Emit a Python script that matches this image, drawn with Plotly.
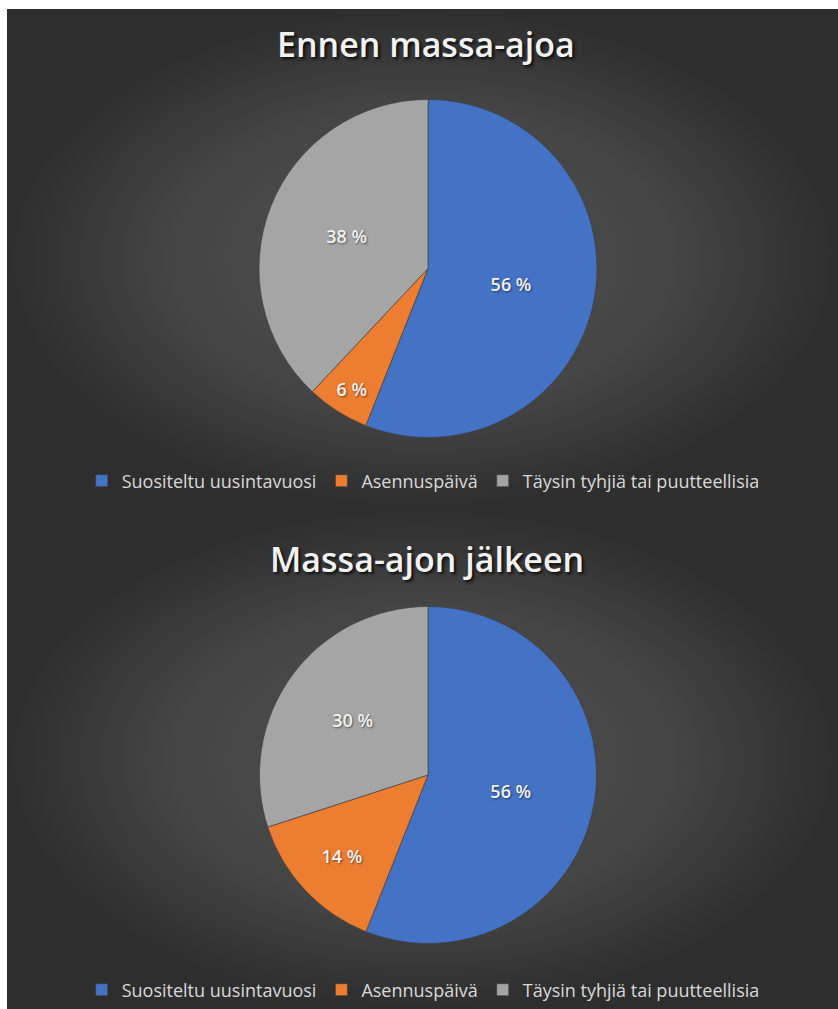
import plotly.graph_objects as go

categories = ["Suositeltu uusintavuosi", "Asennuspäivä", "Täysin tyhjiä tai puutteellisia"]
before_values = [56, 6, 38]
after_values = [56, 14, 30]
titles = ["Ennen massa-ajoa", "Massa-ajon jälkeen"]
colors = ["#4472C4", "#ED7D31", "#A5A5A5"]

W, H = 838, 1009
FONT = "Open Sans"

fig = go.Figure()

# background panels (radial gradient like the Excel chart area)
panels = [(7, W, 9, 508), (7, W, 508, H)]
for x0, x1, y0, y1 in panels:
    fig.add_trace(go.Scatter(
        x=[x0, x1, x1, x0, x0], y=[y0, y0, y1, y1, y0],
        mode="lines", line=dict(width=0), fill="toself",
        fillgradient=dict(type="radial",
                          colorscale=[[0, "#505050"], [0.6, "#454545"], [1, "#2e2e2e"]]),
        hoverinfo="skip", showlegend=False, xaxis="x", yaxis="y"))

def dom(cx, cy, r):
    return dict(x=[(cx - r) / W, (cx + r) / W], y=[1 - (cy + r) / H, 1 - (cy - r) / H])

pies = [(before_values, dom(428, 268.5, 169), "legend", "a"),
        (after_values, dom(428, 775, 168.5), "legend2", "b")]
for vals, d, lg, grp in pies:
    fig.add_trace(go.Pie(
        labels=categories, values=vals, sort=False, direction="clockwise", rotation=0,
        marker=dict(colors=colors, line=dict(color="#3a3a3a", width=0.6)),
        texttemplate="%{value} %", textposition="inside", insidetextorientation="horizontal",
        textfont=dict(family=FONT, size=18, color="#f2f2f2", weight=600,
                      shadow="1px 1px 2px rgba(0,0,0,0.5)"),
        domain=d, legend=lg, legendgroup=grp, hoverinfo="label+percent"))

legend_common = dict(orientation="h", xanchor="center", x=0.505, yanchor="middle",
                     font=dict(family=FONT, size=18, color="#d9d9d9"),
                     bgcolor="rgba(0,0,0,0)", itemwidth=30,
                     traceorder="normal")

title_font = dict(family=FONT, size=34, color="#f2f2f2", weight=600,
                  shadow="2px 2px 3px rgba(0,0,0,0.8)")

fig.update_layout(
    width=W, height=H, margin=dict(l=0, r=0, t=0, b=0),
    paper_bgcolor="white", plot_bgcolor="white",
    xaxis=dict(range=[0, W], domain=[0, 1], visible=False, fixedrange=True),
    yaxis=dict(range=[H, 0], domain=[0, 1], visible=False, fixedrange=True),
    legend=dict(y=1 - 481 / H, **legend_common),
    legend2=dict(y=1 - 990 / H, **legend_common),
    annotations=[
        dict(text=titles[0], x=426 / W, y=1 - 44 / H, xref="paper", yref="paper",
             showarrow=False, xanchor="center", yanchor="middle", font=title_font),
        dict(text=titles[1], x=427 / W, y=1 - 559 / H, xref="paper", yref="paper",
             showarrow=False, xanchor="center", yanchor="middle", font=title_font),
    ],
    showlegend=True,
)

fig.write_html("out.html")
